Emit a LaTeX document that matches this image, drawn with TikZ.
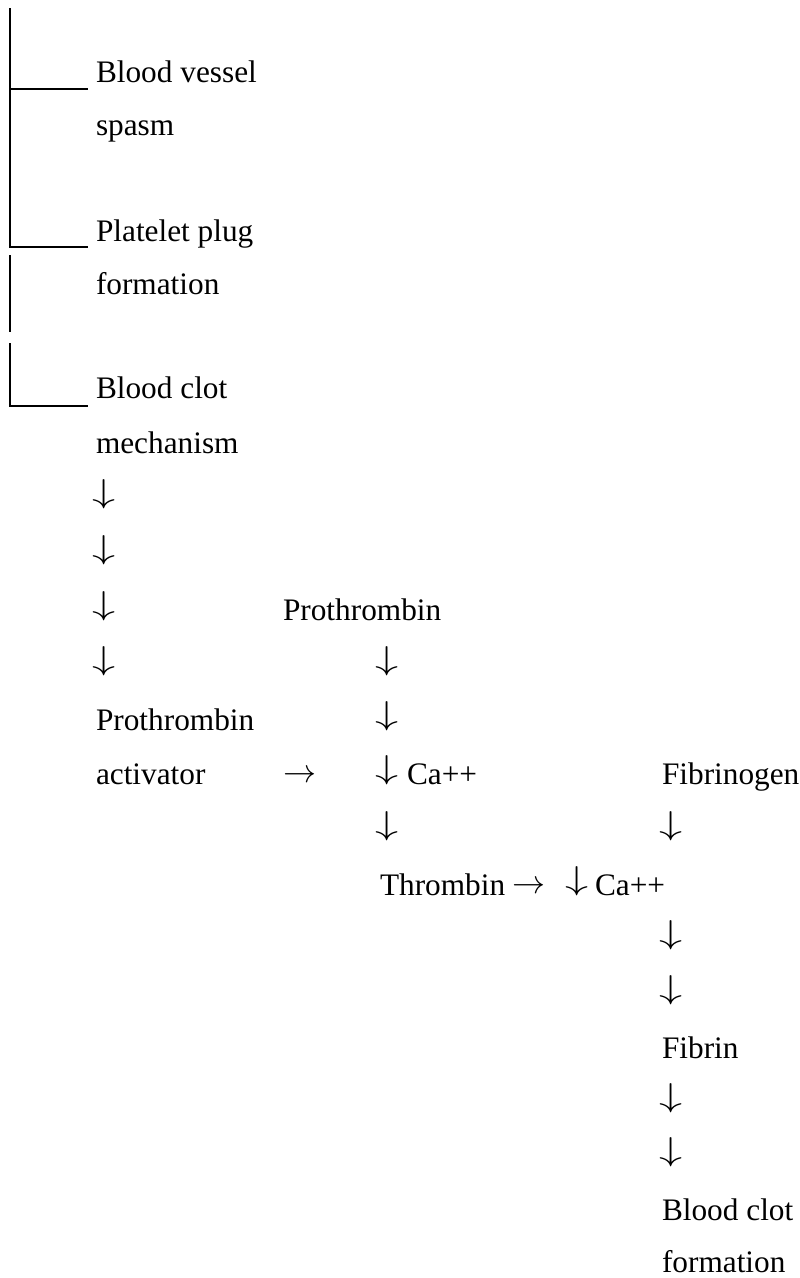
\RequirePackage{fix-cm}
\documentclass[tikz,border=0pt]{standalone}
\usepackage{fontspec}
\setmainfont{Liberation Serif}
\usepackage{graphicx}
\newcommand{\dnarr}{\scalebox{1.4}[1]{$\downarrow$}}
\newcommand{\rtarr}{$\rightarrow$}
\begin{document}
\begin{tikzpicture}[x=1pt,y=-1pt,
  lbl/.style={anchor=base west, inner sep=0pt, outer sep=0pt, font=\fontsize{31.3}{37}\selectfont},
  darr/.style={anchor=south, inner sep=0pt, outer sep=0pt, font=\fontsize{33}{37}\selectfont},
  rarr/.style={anchor=base, inner sep=0pt, outer sep=0pt, font=\fontsize{33}{37}\selectfont},
  brk/.style={line width=1.3pt, black}]
\useasboundingbox (0,0) rectangle (800,1278);
% bracket lines
\coordinate (v1t) at (10,8);
\coordinate (v1b) at (10,247);
\coordinate (h1l) at (10,89);
\coordinate (h1r) at (88,89);
\coordinate (h2r) at (88,247);
\coordinate (v2t) at (10,255);
\coordinate (v2b) at (10,332);
\coordinate (v3t) at (10,343);
\coordinate (v3b) at (10,406);
\coordinate (h3r) at (88,406);
\draw[brk] (v1t) -- (v1b) -- (h2r);
\draw[brk] (h1l) -- (h1r);
\draw[brk] (v2t) -- (v2b);
\draw[brk] (v3t) -- (v3b) -- (h3r);
% left column
\node[lbl] (bv)  at (96,82)  {Blood vessel};
\node[lbl] (sp)  at (96,135) {spasm};
\node[lbl] (pp)  at (96,241) {Platelet plug};
\node[lbl] (pf)  at (96,294) {formation};
\node[lbl] (bc)  at (96,398) {Blood clot};
\node[lbl] (me)  at (96,453) {mechanism};
\node[darr] (a1) at (104,509) {\dnarr};
\node[darr] (a2) at (104,565) {\dnarr};
\node[darr] (a3) at (104,621) {\dnarr};
\node[darr] (a4) at (104,676) {\dnarr};
\node[lbl] (pa1) at (96,730) {Prothrombin};
\node[lbl] (pa2) at (96,784) {activator};
\node[rarr] (r1) at (299.5,782) {\rtarr};
% middle column
\node[lbl] (pt)  at (283,620) {Prothrombin};
\node[darr] (m1) at (387.5,676) {\dnarr};
\node[darr] (m2) at (387.5,731) {\dnarr};
\node[darr] (m3) at (387.5,785) {\dnarr};
\node[lbl] (ca1) at (407,784) {Ca++};
\node[darr] (m4) at (387.5,841) {\dnarr};
\node[lbl] (th)  at (380,895) {Thrombin};
\node[rarr] (r2) at (529,893) {\rtarr};
\node[darr] (m5) at (577,896) {\dnarr};
\node[lbl] (ca2) at (595,895) {Ca++};
% right column
\node[lbl] (fg)  at (662,784)  {Fibrinogen};
\node[darr] (f1) at (671,841)  {\dnarr};
\node[darr] (f2) at (671,950)  {\dnarr};
\node[darr] (f3) at (671,1005) {\dnarr};
\node[lbl] (fb)  at (662,1058) {Fibrin};
\node[darr] (f4) at (671,1113) {\dnarr};
\node[darr] (f5) at (671,1167) {\dnarr};
\node[lbl] (cf1) at (662,1220) {Blood clot};
\node[lbl] (cf2) at (662,1272) {formation};
\end{tikzpicture}
\end{document}
